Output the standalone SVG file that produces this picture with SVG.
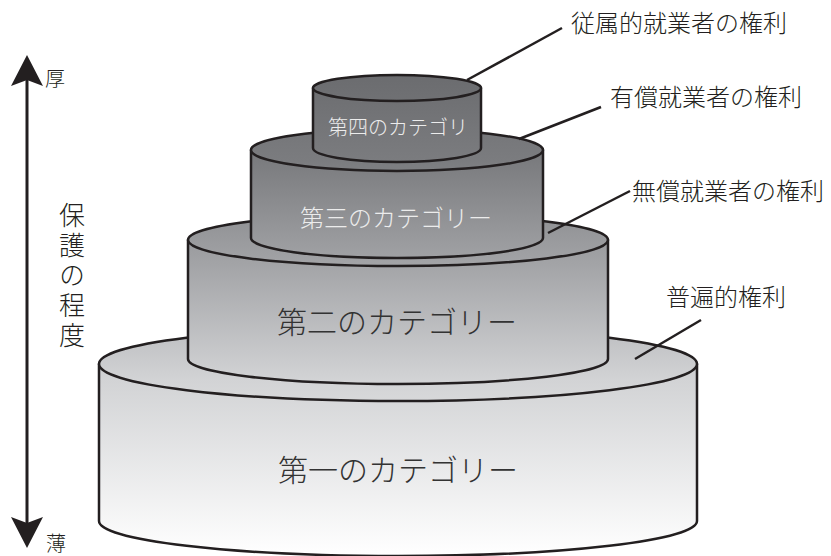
<svg xmlns="http://www.w3.org/2000/svg" width="831" height="556" viewBox="0 0 831 556">
<defs>
<linearGradient id="g" gradientUnits="userSpaceOnUse" x1="0" y1="75" x2="0" y2="555">
<stop offset="0" stop-color="#6b6c6f"/>
<stop offset="0.18" stop-color="#7b7c7f"/>
<stop offset="0.38" stop-color="#a0a1a4"/>
<stop offset="0.635" stop-color="#d2d3d5"/>
<stop offset="1" stop-color="#ffffff"/>
</linearGradient>
</defs>
<style>
.t{fill:url(#g);stroke:#231f20;stroke-width:2.5;stroke-linejoin:round}
.j{font-family:"Noto Sans CJK JP","Noto Sans CJK SC",sans-serif;font-weight:300}
.lab{fill:#231f20;font-size:24px}
.dk{fill:#333333;text-anchor:middle}
.lt{fill:#ececec;text-anchor:middle}
.ld{stroke:#231f20;stroke-width:2.5;fill:none}
</style>
<g id="axis">
<line x1="27" y1="80" x2="27" y2="525" stroke="#231f20" stroke-width="3"/>
<polygon points="27,55 11,86 27,80 43,86" fill="#231f20"/>
<polygon points="27,548 11,517 27,523 43,517" fill="#231f20"/>
<text class="j" x="45" y="86" font-size="20" fill="#231f20">厚</text>
<text class="j" x="46" y="551" font-size="20" fill="#231f20">薄</text>
<text class="j" x="72" y="202" font-size="26" fill="#231f20" letter-spacing="4" style="writing-mode:vertical-rl">保護の程度</text>
</g>
<g id="tier1">
<path class="t" d="M99,364 L99,521 A299,35 0 0 0 697,521 L697,364 Z"/>
<ellipse class="t" cx="398" cy="364" rx="299" ry="37"/>
<text class="j dk" x="398" y="481" font-size="30">第一のカテゴリー</text>
</g>
<g id="tier2">
<path class="t" d="M188,240 L188,359 A210,25 0 0 0 608,359 L608,240 Z"/>
<ellipse class="t" cx="398" cy="240" rx="210" ry="26"/>
<text class="j dk" x="397" y="333" font-size="30">第二のカテゴリー</text>
</g>
<g id="tier3">
<path class="t" d="M251,150 L251,238 A146,20 0 0 0 543,238 L543,150 Z"/>
<ellipse class="t" cx="397" cy="150" rx="146" ry="21"/>
<text class="j lt" x="396" y="227" font-size="24">第三のカテゴリー</text>
</g>
<g id="tier4">
<path class="t" d="M313,88 L313,148 A84,14 0 0 0 481,148 L481,88 Z"/>
<ellipse class="t" cx="397" cy="88" rx="84" ry="13"/>
<text class="j lt" x="398" y="135" font-size="20">第四のカテゴリ</text>
</g>
<g id="connectors">
<line class="ld" x1="467" y1="80" x2="562" y2="28"/>
<line class="ld" x1="519" y1="139" x2="601" y2="107"/>
<line class="ld" x1="548" y1="233" x2="630" y2="191"/>
<line class="ld" x1="635" y1="359" x2="701" y2="320"/>
</g>
<g id="labels">
<text class="j lab" x="571" y="32">従属的就業者の権利</text>
<text class="j lab" x="610" y="106">有償就業者の権利</text>
<text class="j lab" x="632" y="200">無償就業者の権利</text>
<text class="j lab" x="666" y="306">普遍的権利</text>
</g>
</svg>
